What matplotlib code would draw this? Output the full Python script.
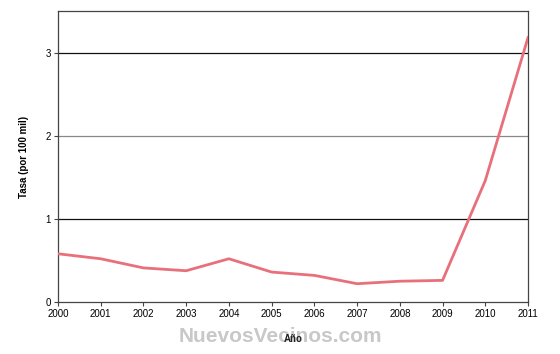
import matplotlib
matplotlib.use("Agg")
import matplotlib.pyplot as plt

# datos
anios = [2000, 2001, 2002, 2003, 2004, 2005, 2006, 2007, 2008, 2009, 2010, 2011]
tasa = [0.58, 0.52, 0.41, 0.376, 0.52, 0.36, 0.32, 0.22, 0.25, 0.26, 1.46, 3.18]
y_ticks = [0, 1, 2, 3]

plt.rcParams["font.family"] = ["Liberation Sans", "DejaVu Sans"]

fig = plt.figure(figsize=(5.6, 3.54), dpi=100)
ax = fig.add_axes([58 / 560, 52 / 354, 470 / 560, 291 / 354])

for v in y_ticks[1:]:
    ax.axhline(v, color="#888888" if v == 2 else "#111111", linewidth=0.9, zorder=1)

ax.plot(anios, tasa, color="#E8707A", linewidth=2, zorder=3, solid_joinstyle="round")

ax.set_xlim(2000, 2011)
ax.set_ylim(0, 3.5)
ax.set_xticks(anios)
ax.set_yticks(y_ticks)
ax.tick_params(labelsize=7, length=3, width=0.8, color="#444444", pad=2)
for s in ax.spines.values():
    s.set_color("#444444")
    s.set_linewidth(0.9)

ax.set_ylabel("Tasa (por 100 mil)", fontsize=7, fontweight="bold", labelpad=12)

fig.text(280 / 560, 1 - 337 / 354, "NuevosVecinos.com", fontsize=15, fontweight="bold",
         color="#C8C8C8", ha="center", va="center", zorder=0)
fig.text(293 / 560, 1 - 339 / 354, "Año", fontsize=7, fontweight="bold",
         color="#222222", ha="center", va="center")

fig.savefig("out.png", dpi=100)
